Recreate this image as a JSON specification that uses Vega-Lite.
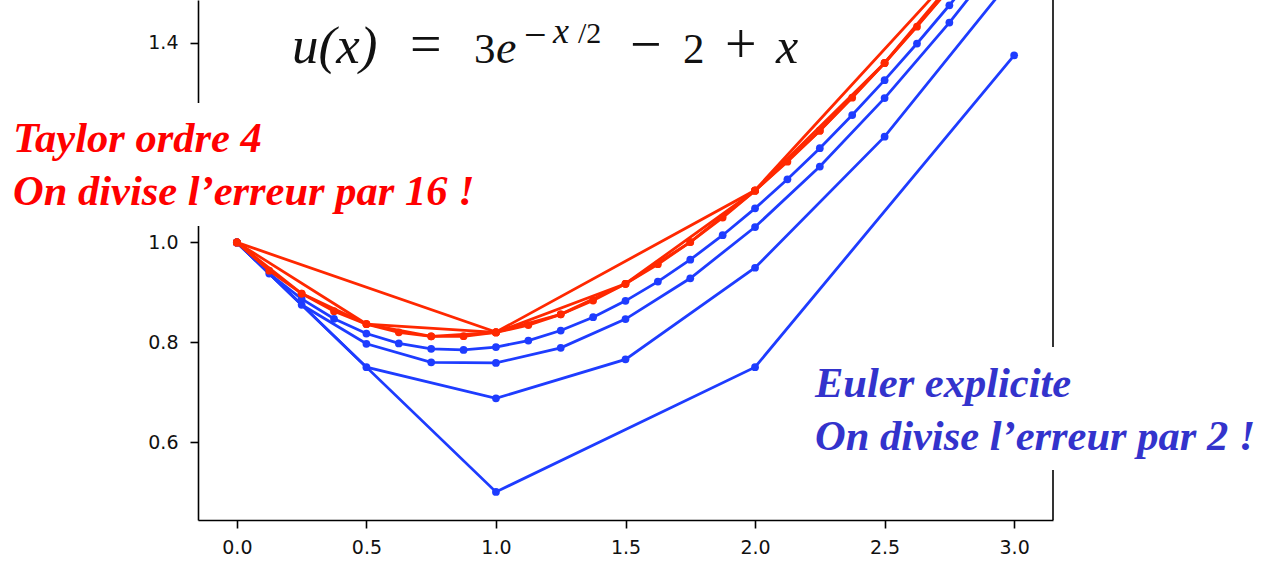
{
  "$schema": "https://vega.github.io/schema/vega-lite/v6.json",
  "width": 855,
  "height": 520,
  "autosize": {"type": "none"},
  "padding": {"left": 198, "top": 0, "right": 210, "bottom": 43},
  "background": "white",
  "config": {
    "view": {"stroke": null},
    "axis": {
      "grid": false,
      "title": null,
      "domainColor": "#000",
      "domainWidth": 1.6,
      "tickColor": "#000",
      "tickWidth": 1.6,
      "tickSize": 8,
      "labelFont": "DejaVu Sans",
      "labelFontSize": 19,
      "labelColor": "#111",
      "format": ".1f"
    }
  },
  "datasets": {
    "sol": [
      {"m": "Euler", "h": 1, "x": 0, "u": 1},
      {"m": "Euler", "h": 1, "x": 1, "u": 0.5},
      {"m": "Euler", "h": 1, "x": 2, "u": 0.75},
      {"m": "Euler", "h": 1, "x": 3, "u": 1.375},
      {"m": "Euler", "h": 0.5, "x": 0, "u": 1},
      {"m": "Euler", "h": 0.5, "x": 0.5, "u": 0.75},
      {"m": "Euler", "h": 0.5, "x": 1, "u": 0.6875},
      {"m": "Euler", "h": 0.5, "x": 1.5, "u": 0.765625},
      {"m": "Euler", "h": 0.5, "x": 2, "u": 0.949219},
      {"m": "Euler", "h": 0.5, "x": 2.5, "u": 1.211914},
      {"m": "Euler", "h": 0.5, "x": 3, "u": 1.533936},
      {"m": "Euler", "h": 0.25, "x": 0, "u": 1},
      {"m": "Euler", "h": 0.25, "x": 0.25, "u": 0.875},
      {"m": "Euler", "h": 0.25, "x": 0.5, "u": 0.796875},
      {"m": "Euler", "h": 0.25, "x": 0.75, "u": 0.759766},
      {"m": "Euler", "h": 0.25, "x": 1, "u": 0.758545},
      {"m": "Euler", "h": 0.25, "x": 1.25, "u": 0.788727},
      {"m": "Euler", "h": 0.25, "x": 1.5, "u": 0.846386},
      {"m": "Euler", "h": 0.25, "x": 1.75, "u": 0.928088},
      {"m": "Euler", "h": 0.25, "x": 2, "u": 1.030827},
      {"m": "Euler", "h": 0.25, "x": 2.25, "u": 1.151973},
      {"m": "Euler", "h": 0.25, "x": 2.5, "u": 1.289227},
      {"m": "Euler", "h": 0.25, "x": 2.75, "u": 1.440573},
      {"m": "Euler", "h": 0.25, "x": 3, "u": 1.604252},
      {"m": "Euler", "h": 0.125, "x": 0, "u": 1},
      {"m": "Euler", "h": 0.125, "x": 0.125, "u": 0.9375},
      {"m": "Euler", "h": 0.125, "x": 0.25, "u": 0.886719},
      {"m": "Euler", "h": 0.125, "x": 0.375, "u": 0.846924},
      {"m": "Euler", "h": 0.125, "x": 0.5, "u": 0.817429},
      {"m": "Euler", "h": 0.125, "x": 0.625, "u": 0.797589},
      {"m": "Euler", "h": 0.125, "x": 0.75, "u": 0.786802},
      {"m": "Euler", "h": 0.125, "x": 0.875, "u": 0.784502},
      {"m": "Euler", "h": 0.125, "x": 1, "u": 0.790158},
      {"m": "Euler", "h": 0.125, "x": 1.125, "u": 0.803274},
      {"m": "Euler", "h": 0.125, "x": 1.25, "u": 0.823381},
      {"m": "Euler", "h": 0.125, "x": 1.375, "u": 0.850045},
      {"m": "Euler", "h": 0.125, "x": 1.5, "u": 0.882855},
      {"m": "Euler", "h": 0.125, "x": 1.625, "u": 0.921426},
      {"m": "Euler", "h": 0.125, "x": 1.75, "u": 0.9654},
      {"m": "Euler", "h": 0.125, "x": 1.875, "u": 1.014437},
      {"m": "Euler", "h": 0.125, "x": 2, "u": 1.068222},
      {"m": "Euler", "h": 0.125, "x": 2.125, "u": 1.126458},
      {"m": "Euler", "h": 0.125, "x": 2.25, "u": 1.188867},
      {"m": "Euler", "h": 0.125, "x": 2.375, "u": 1.255188},
      {"m": "Euler", "h": 0.125, "x": 2.5, "u": 1.325176},
      {"m": "Euler", "h": 0.125, "x": 2.625, "u": 1.398603},
      {"m": "Euler", "h": 0.125, "x": 2.75, "u": 1.475253},
      {"m": "Euler", "h": 0.125, "x": 2.875, "u": 1.554924},
      {"m": "Euler", "h": 0.125, "x": 3, "u": 1.637429},
      {"m": "Taylor", "h": 1, "x": 0, "u": 1},
      {"m": "Taylor", "h": 1, "x": 1, "u": 0.820313},
      {"m": "Taylor", "h": 1, "x": 2, "u": 1.104513},
      {"m": "Taylor", "h": 1, "x": 3, "u": 1.670186},
      {"m": "Taylor", "h": 0.5, "x": 0, "u": 1},
      {"m": "Taylor", "h": 0.5, "x": 0.5, "u": 0.836426},
      {"m": "Taylor", "h": 0.5, "x": 1, "u": 0.819628},
      {"m": "Taylor", "h": 0.5, "x": 1.5, "u": 0.917142},
      {"m": "Taylor", "h": 0.5, "x": 2, "u": 1.103683},
      {"m": "Taylor", "h": 0.5, "x": 2.5, "u": 1.359558},
      {"m": "Taylor", "h": 0.5, "x": 3, "u": 1.669431},
      {"m": "Taylor", "h": 0.25, "x": 0, "u": 1},
      {"m": "Taylor", "h": 0.25, "x": 0.25, "u": 0.897491},
      {"m": "Taylor", "h": 0.25, "x": 0.5, "u": 0.836403},
      {"m": "Taylor", "h": 0.25, "x": 0.75, "u": 0.811868},
      {"m": "Taylor", "h": 0.25, "x": 1, "u": 0.819594},
      {"m": "Taylor", "h": 0.25, "x": 1.25, "u": 0.855786},
      {"m": "Taylor", "h": 0.25, "x": 1.5, "u": 0.917102},
      {"m": "Taylor", "h": 0.25, "x": 1.75, "u": 1.000588},
      {"m": "Taylor", "h": 0.25, "x": 2, "u": 1.10364},
      {"m": "Taylor", "h": 0.25, "x": 2.25, "u": 1.223959},
      {"m": "Taylor", "h": 0.25, "x": 2.5, "u": 1.359516},
      {"m": "Taylor", "h": 0.25, "x": 2.75, "u": 1.508521},
      {"m": "Taylor", "h": 0.25, "x": 3, "u": 1.669392},
      {"m": "Taylor", "h": 0.125, "x": 0, "u": 1},
      {"m": "Taylor", "h": 0.125, "x": 0.125, "u": 0.943239},
      {"m": "Taylor", "h": 0.125, "x": 0.25, "u": 0.897491},
      {"m": "Taylor", "h": 0.125, "x": 0.375, "u": 0.862087},
      {"m": "Taylor", "h": 0.125, "x": 0.5, "u": 0.836402},
      {"m": "Taylor", "h": 0.125, "x": 0.625, "u": 0.819849},
      {"m": "Taylor", "h": 0.125, "x": 0.75, "u": 0.811867},
      {"m": "Taylor", "h": 0.125, "x": 0.875, "u": 0.811947},
      {"m": "Taylor", "h": 0.125, "x": 1, "u": 0.819592},
      {"m": "Taylor", "h": 0.125, "x": 1.125, "u": 0.834349},
      {"m": "Taylor", "h": 0.125, "x": 1.25, "u": 0.855784},
      {"m": "Taylor", "h": 0.125, "x": 1.375, "u": 0.883495},
      {"m": "Taylor", "h": 0.125, "x": 1.5, "u": 0.9171},
      {"m": "Taylor", "h": 0.125, "x": 1.625, "u": 0.956241},
      {"m": "Taylor", "h": 0.125, "x": 1.75, "u": 1.000586},
      {"m": "Taylor", "h": 0.125, "x": 1.875, "u": 1.049819},
      {"m": "Taylor", "h": 0.125, "x": 2, "u": 1.103638},
      {"m": "Taylor", "h": 0.125, "x": 2.125, "u": 1.161772},
      {"m": "Taylor", "h": 0.125, "x": 2.25, "u": 1.223957},
      {"m": "Taylor", "h": 0.125, "x": 2.375, "u": 1.289948},
      {"m": "Taylor", "h": 0.125, "x": 2.5, "u": 1.359514},
      {"m": "Taylor", "h": 0.125, "x": 2.625, "u": 1.432439},
      {"m": "Taylor", "h": 0.125, "x": 2.75, "u": 1.508519},
      {"m": "Taylor", "h": 0.125, "x": 2.875, "u": 1.587563},
      {"m": "Taylor", "h": 0.125, "x": 3, "u": 1.66939}
    ],
    "one": [{"k": 1}]
  },
  "layer": [
    {
      "data": {"name": "one"},
      "mark": {"type": "rule", "color": "#000", "strokeWidth": 1.6},
      "encoding": {
        "x": {"datum": 3.15, "type": "quantitative", "scale": {"domain": [-0.15, 3.15], "nice": false, "zero": false}, "axis": {"values": [0, 0.5, 1, 1.5, 2, 2.5, 3], "labelPadding": 10}}
      }
    },
    {
      "data": {"name": "sol"},
      "transform": [{"filter": "datum.m === 'Euler'"}],
      "mark": {"type": "line", "color": "#1e3cff", "strokeWidth": 2.8},
      "encoding": {
        "x": {"field": "x", "type": "quantitative"},
        "y": {"field": "u", "type": "quantitative", "scale": {"domain": [0.4437, 1.4858], "nice": false, "zero": false}, "axis": {"values": [0.6, 0.8, 1.0, 1.4], "labelPadding": 12}},
        "detail": {"field": "h", "type": "nominal"}
      }
    },
    {
      "data": {"name": "sol"},
      "transform": [{"filter": "datum.m === 'Euler'"}],
      "mark": {"type": "point", "filled": true, "color": "#1e3cff", "size": 60, "opacity": 1},
      "encoding": {
        "x": {"field": "x", "type": "quantitative"},
        "y": {"field": "u", "type": "quantitative"}
      }
    },
    {
      "data": {"name": "sol"},
      "transform": [{"filter": "datum.m === 'Taylor'"}],
      "mark": {"type": "line", "color": "#ff2800", "strokeWidth": 2.8},
      "encoding": {
        "x": {"field": "x", "type": "quantitative"},
        "y": {"field": "u", "type": "quantitative"},
        "detail": {"field": "h", "type": "nominal"}
      }
    },
    {
      "data": {"name": "sol"},
      "transform": [{"filter": "datum.m === 'Taylor'"}],
      "mark": {"type": "point", "filled": true, "color": "#ff2800", "size": 60, "opacity": 1},
      "encoding": {
        "x": {"field": "x", "type": "quantitative"},
        "y": {"field": "u", "type": "quantitative"}
      }
    },
    {
      "data": {"name": "one"},
      "mark": {"type": "rect", "fill": "white"},
      "encoding": {"x": {"datum": -0.9142}, "x2": {"datum": 0.9384}, "y": {"datum": 1.2794}, "y2": {"datum": 1.0329}}
    },
    {
      "data": {"name": "one"},
      "mark": {"type": "rect", "fill": "white"},
      "encoding": {"x": {"datum": 2.1928}, "x2": {"datum": 3.9605}, "y": {"datum": 0.7904}, "y2": {"datum": 0.5439}}
    },
    {
      "data": {"name": "one"},
      "mark": {"type": "text", "text": "Taylor ordre 4", "font": "Liberation Serif", "fontSize": 42.5, "fontStyle": "italic", "fontWeight": "bold", "color": "#ff0000", "align": "left", "baseline": "alphabetic"},
      "encoding": {"x": {"datum": -0.864}, "y": {"datum": 1.1812}}
    },
    {
      "data": {"name": "one"},
      "mark": {"type": "text", "text": "On divise l’erreur par 16 !", "font": "Liberation Serif", "fontSize": 42.5, "fontStyle": "italic", "fontWeight": "bold", "color": "#ff0000", "align": "left", "baseline": "alphabetic"},
      "encoding": {"x": {"datum": -0.864}, "y": {"datum": 1.075}}
    },
    {
      "data": {"name": "one"},
      "mark": {"type": "text", "text": "Euler explicite", "font": "Liberation Serif", "fontSize": 42.5, "fontStyle": "italic", "fontWeight": "bold", "color": "#3333cc", "align": "left", "baseline": "alphabetic"},
      "encoding": {"x": {"datum": 2.2314}, "y": {"datum": 0.6902}}
    },
    {
      "data": {"name": "one"},
      "mark": {"type": "text", "text": "On divise l’erreur par 2 !", "font": "Liberation Serif", "fontSize": 42.5, "fontStyle": "italic", "fontWeight": "bold", "color": "#3333cc", "align": "left", "baseline": "alphabetic"},
      "encoding": {"x": {"datum": 2.2314}, "y": {"datum": 0.584}}
    },
    {
      "data": {"name": "one"},
      "mark": {"type": "text", "text": "u(x)", "font": "Liberation Serif", "fontSize": 53, "fontStyle": "italic", "color": "#111", "align": "left", "baseline": "alphabetic"},
      "encoding": {"x": {"datum": 0.2128}, "y": {"datum": 1.3596}}
    },
    {
      "data": {"name": "one"},
      "mark": {"type": "text", "text": "=", "font": "Liberation Serif", "fontSize": 56, "color": "#111", "align": "left", "baseline": "alphabetic"},
      "encoding": {"x": {"datum": 0.6682}, "y": {"datum": 1.3596}}
    },
    {
      "data": {"name": "one"},
      "mark": {"type": "text", "text": "3", "font": "Liberation Serif", "fontSize": 43, "color": "#111", "align": "left", "baseline": "alphabetic"},
      "encoding": {"x": {"datum": 0.9153}, "y": {"datum": 1.3596}}
    },
    {
      "data": {"name": "one"},
      "mark": {"type": "text", "text": "e", "font": "Liberation Serif", "fontSize": 46, "fontStyle": "italic", "color": "#111", "align": "left", "baseline": "alphabetic"},
      "encoding": {"x": {"datum": 1.0003}, "y": {"datum": 1.3596}}
    },
    {
      "data": {"name": "one"},
      "mark": {"type": "text", "text": "−", "font": "Liberation Serif", "fontSize": 40, "color": "#111", "align": "left", "baseline": "alphabetic"},
      "encoding": {"x": {"datum": 1.1084}, "y": {"datum": 1.3888}}
    },
    {
      "data": {"name": "one"},
      "mark": {"type": "text", "text": "x", "font": "Liberation Serif", "fontSize": 36, "fontStyle": "italic", "color": "#111", "align": "left", "baseline": "alphabetic"},
      "encoding": {"x": {"datum": 1.2202}, "y": {"datum": 1.3996}}
    },
    {
      "data": {"name": "one"},
      "mark": {"type": "text", "text": "/2", "font": "Liberation Serif", "fontSize": 30, "color": "#111", "align": "left", "baseline": "alphabetic"},
      "encoding": {"x": {"datum": 1.3167}, "y": {"datum": 1.3996}}
    },
    {
      "data": {"name": "one"},
      "mark": {"type": "text", "text": "−", "font": "Liberation Serif", "fontSize": 56, "color": "#111", "align": "left", "baseline": "alphabetic"},
      "encoding": {"x": {"datum": 1.5174}, "y": {"datum": 1.3596}}
    },
    {
      "data": {"name": "one"},
      "mark": {"type": "text", "text": "2", "font": "Liberation Serif", "fontSize": 43, "color": "#111", "align": "left", "baseline": "alphabetic"},
      "encoding": {"x": {"datum": 1.7219}, "y": {"datum": 1.3596}}
    },
    {
      "data": {"name": "one"},
      "mark": {"type": "text", "text": "+", "font": "Liberation Serif", "fontSize": 56, "color": "#111", "align": "left", "baseline": "alphabetic"},
      "encoding": {"x": {"datum": 1.884}, "y": {"datum": 1.3596}}
    },
    {
      "data": {"name": "one"},
      "mark": {"type": "text", "text": "x", "font": "Liberation Serif", "fontSize": 50, "fontStyle": "italic", "color": "#111", "align": "left", "baseline": "alphabetic"},
      "encoding": {"x": {"datum": 2.0809}, "y": {"datum": 1.3596}}
    }
  ]
}
